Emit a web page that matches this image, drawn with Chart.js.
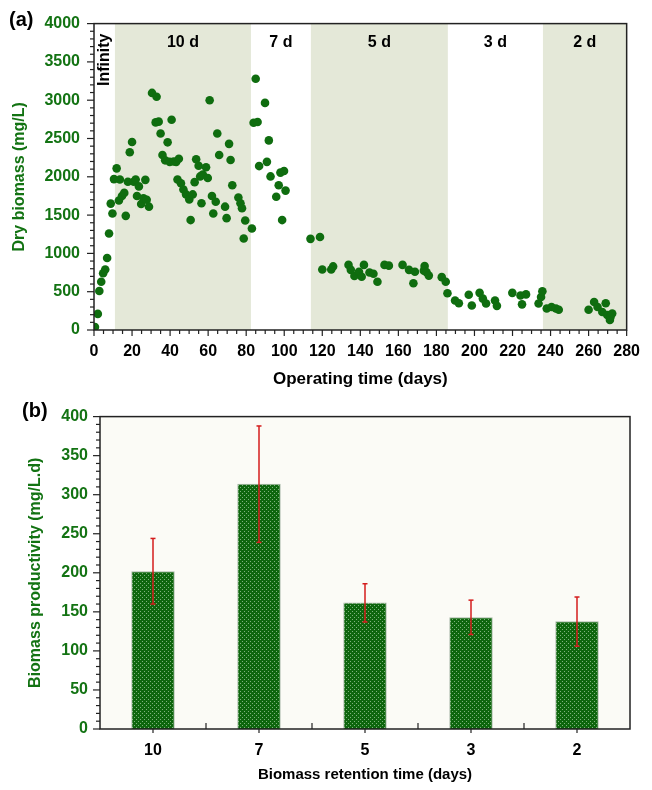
<!doctype html>
<html lang="en">
  <head>
    <meta charset="utf-8">
    <style>
      * { margin: 0; padding: 0; }
      body { width: 652px; height: 790px; background: #fff; position: relative; overflow: hidden; }
      canvas { position: absolute; left: 0; }
      #chartA { top: 0; }
      #chartB { top: 395px; }
    </style>
  </head>
  <body>
    <canvas id="chartA" width="652" height="395"></canvas>
    <canvas id="chartB" width="652" height="395"></canvas>

    <script src="https://cdn.jsdelivr.net/npm/chart.js/dist/chart.umd.min.js"></script>
    <script>
// ---- panel (a) data ----
const days = [
  0.5, 2, 2.8, 3.8, 4.8, 5.9, 6.9, 7.9, 8.8, 9.7, 10.5,
  11.9, 13.1, 13.6, 14.7, 15.9, 16.7, 17.8, 18.8, 20, 20.9, 21.9, 22.6, 23.6, 24.8, 26, 27, 27.7, 28.9,
  30.5, 32.4, 32.9, 34, 35, 36, 37.4, 38.7, 39.8, 40.8, 41.9, 43.2, 43.9, 44.6, 45.7, 47, 48.4,
  50.1, 50.8, 51.9, 52.9, 53.7, 55, 56.5, 55.8, 57.2, 58.9, 59.8, 60.8, 62, 62.7, 64, 64.8, 65.8,
  68.9, 69.7, 71, 71.8, 72.7, 75.9, 77, 77.8, 78.7, 79.5, 83,
  83.9, 85, 86, 86.8, 89.9, 90.9, 91.9, 92.8, 95.8, 97.1, 98, 98.9, 99.9, 100.7,
  113.8, 118.8, 120, 124.7, 125.7, 133.8, 135, 136.9, 139.3, 140.7, 141.9, 144.8, 146.9, 149,
  152.7, 155, 162.2, 165.6, 167.9, 168.7, 173.4, 173.8, 174.8, 176, 182.8, 184.9,
  185.8, 189.8, 191.8, 197, 198.6, 202.7, 204.4, 206.1, 210.8, 211.8, 219.9, 224.2, 225, 227.1,
  233.7, 235, 235.7,
  238, 240.5, 242.8, 244.3, 260, 262.9, 264.7, 267.2, 269, 269.8, 271.2, 271.5, 272.4
];
const biomass = [
  40, 210, 510, 630, 740, 790, 940, 1260, 1650, 1520, 1970,
  2110, 1690, 1965, 1750, 1790, 1490, 1935, 2320, 2455, 1935, 1965, 1750, 1875, 1645, 1720, 1960, 1700, 1610,
  3095, 2710, 3045, 2720, 2565, 2285, 2215, 2450, 2195, 2745, 2200, 2195, 1965, 2235, 1915, 1835, 1770,
  1705, 1435, 1770, 1930, 2230, 2145, 1655, 2005, 2030, 2125, 1985, 3000, 1750, 1520, 1675, 2565, 2285,
  1610, 1460, 2430, 2220, 1890, 1730, 1655, 1590, 1195, 1430, 1325,
  2705, 3280, 2715, 2140, 2965, 2195, 2475, 2005, 1740, 1890, 2055, 1435, 2075, 1820,
  1190, 1215, 790, 790, 830, 850, 785, 705, 760, 695, 850, 750, 735, 630,
  850, 840, 850, 785, 610, 760, 775, 835, 755, 710, 690, 630,
  480, 385, 350, 460, 320, 485, 410, 345, 385, 315, 485, 450, 335, 465,
  345, 430, 505,
  280, 300, 280, 265, 265, 365, 300, 235, 350, 195, 130, 170, 215
];
// retention-time phases (days)
const phaseNames = ['Infinity', '10 d', '7 d', '5 d', '3 d', '2 d'];
const phaseStart = [0, 11, 82.5, 114, 186, 236];
const phaseEnd = [11, 82.5, 114, 186, 236, 280];
const phaseShaded = [false, true, false, true, false, true];

// ---- panel (b) data ----
const retention = ['10', '7', '5', '3', '2'];
const productivity = [202, 314, 162, 143, 138];
const errLow = [160, 239, 137, 121, 106];
const errHigh = [244, 388, 186, 165, 169];

const green = '#137313';
const dotGreen = '#0f6d0f';
const font = 'Liberation Sans';

function drawPanelLabel(ctx, text, x, y) {
  ctx.save();
  ctx.font = 'bold 20px ' + font;
  ctx.fillStyle = '#000';
  ctx.textBaseline = 'middle';
  ctx.fillText(text, x, y);
  ctx.restore();
}

function tickLine(ctx, x1, y1, x2, y2) {
  ctx.beginPath();
  ctx.moveTo(x1, y1);
  ctx.lineTo(x2, y2);
  ctx.stroke();
}

// shaded phases + labels
const phases = {
  id: 'phases',
  beforeDatasetsDraw(chart) {
    const {ctx, chartArea: {top, bottom}, scales: {x}} = chart;
    ctx.save();
    ctx.fillStyle = '#e4e8d8';
    phaseStart.forEach((s, i) => {
      if (!phaseShaded[i]) return;
      const x1 = x.getPixelForValue(s), x2 = x.getPixelForValue(phaseEnd[i]);
      ctx.fillRect(x1, top, x2 - x1, bottom - top);
    });
    ctx.fillStyle = '#000';
    ctx.font = 'bold 16px ' + font;
    ctx.textBaseline = 'middle';
    phaseNames.forEach((name, i) => {
      const cx = x.getPixelForValue((phaseStart[i] + phaseEnd[i]) / 2);
      if (i === 0) {
        ctx.save();
        ctx.translate(cx, top + 10);
        ctx.rotate(-Math.PI / 2);
        ctx.textAlign = 'right';
        ctx.fillText(name, 0, 0);
        ctx.restore();
      } else {
        ctx.textAlign = 'center';
        ctx.fillText(name, cx, top + 19);
      }
    });
    ctx.restore();
  }
};

// frame + tick marks for (a)
const frameA = {
  id: 'frameA',
  afterDatasetsDraw(chart) {
    const {ctx, chartArea: {top, bottom, left, right}, scales: {x, y}} = chart;
    ctx.save();
    ctx.strokeStyle = '#222';
    ctx.lineWidth = 1.5;
    ctx.strokeRect(left, top, right - left, bottom - top);
    ctx.lineWidth = 1.2;
    for (let v = 0; v <= 4000; v += 100) {
      const py = y.getPixelForValue(v);
      tickLine(ctx, left, py, left - (v % 500 === 0 ? 7 : 4), py);
    }
    for (let v = 0; v <= 280; v += 5) {
      const px = x.getPixelForValue(v);
      tickLine(ctx, px, bottom, px, bottom + (v % 20 === 0 ? 6 : 4));
    }
    ctx.restore();
    drawPanelLabel(ctx, '(a)', 9, 20);
  }
};

const plain = v => String(v);

new Chart(document.getElementById('chartA'), {
  type: 'scatter',
  data: {
    datasets: [{
      data: days.map((d, i) => ({x: d, y: biomass[i]})),
      backgroundColor: dotGreen,
      borderWidth: 0,
      pointRadius: 4.3,
      pointHoverRadius: 4.3
    }]
  },
  options: {
    responsive: false,
    animation: false,
    layout: {padding: {top: 20, right: 16, left: 0, bottom: 0}},
    plugins: {legend: {display: false}, tooltip: {enabled: false}},
    scales: {
      x: {
        type: 'linear', min: 0, max: 280,
        afterFit(s) { s.height = 65; },
        grid: {display: false, drawTicks: false},
        border: {display: false},
        ticks: {stepSize: 20, color: '#000', padding: 12, callback: plain,
                font: {family: font, size: 16, weight: 'bold'}, maxRotation: 0},
        title: {display: true, text: 'Operating time (days)', color: '#000', padding: {top: 0, bottom: 5},
                font: {family: font, size: 17, weight: 'bold'}}
      },
      y: {
        min: 0, max: 4000,
        afterFit(s) { s.width = 94; },
        grid: {display: false, drawTicks: false},
        border: {display: false},
        ticks: {stepSize: 500, color: green, padding: 14, callback: plain,
                font: {family: font, size: 16, weight: 'bold'}},
        title: {display: true, text: 'Dry biomass (mg/L)', color: green, padding: {top: 10, bottom: 0},
                font: {family: font, size: 16, weight: 'bold'}}
      }
    }
  },
  plugins: [phases, frameA]
});

// ---- (b) ----
function dotPattern() {
  const c = document.createElement('canvas');
  c.width = 4; c.height = 4;
  const p = c.getContext('2d');
  p.fillStyle = '#0e660e';
  p.fillRect(0, 0, 4, 4);
  p.fillStyle = 'rgba(200,230,200,0.6)';
  p.fillRect(0, 0, 1, 1);
  p.fillRect(2, 2, 1, 1);
  return p.createPattern(c, 'repeat');
}

const frameB = {
  id: 'frameB',
  beforeDatasetsDraw(chart) {
    const {ctx, chartArea: {top, bottom, left, right}} = chart;
    ctx.save();
    ctx.fillStyle = '#fbfbf6';
    ctx.fillRect(left, top, right - left, bottom - top);
    ctx.restore();
  },
  afterDatasetsDraw(chart) {
    const {ctx, chartArea: {top, bottom, left, right}, scales: {x, y}} = chart;
    ctx.save();
    // error bars
    ctx.strokeStyle = '#d41c1c';
    ctx.lineWidth = 1.5;
    productivity.forEach((v, i) => {
      const px = x.getPixelForValue(i);
      const lo = y.getPixelForValue(errLow[i]), hi = y.getPixelForValue(errHigh[i]);
      tickLine(ctx, px, lo, px, hi);
      tickLine(ctx, px - 2.5, lo, px + 2.5, lo);
      tickLine(ctx, px - 2.5, hi, px + 2.5, hi);
    });
    ctx.strokeStyle = '#222';
    ctx.lineWidth = 1.5;
    ctx.strokeRect(left, top, right - left, bottom - top);
    ctx.lineWidth = 1.2;
    for (let v = 0; v <= 400; v += 10) {
      const py = y.getPixelForValue(v);
      tickLine(ctx, left, py, left - (v % 50 === 0 ? 7 : 4), py);
    }
    retention.forEach((r, i) => {
      const px = x.getPixelForValue(i);
      tickLine(ctx, px, bottom, px, bottom + 4);
      if (i > 0) {
        const bx = (x.getPixelForValue(i - 1) + px) / 2;
        tickLine(ctx, bx, bottom, bx, bottom - 6);
      }
    });
    ctx.restore();
    drawPanelLabel(ctx, '(b)', 22, 16);
  }
};

new Chart(document.getElementById('chartB'), {
  type: 'bar',
  data: {
    labels: retention,
    datasets: [{
      data: productivity,
      backgroundColor: dotPattern(),
      borderColor: '#a9b8a9',
      borderWidth: 1,
      borderSkipped: 'bottom',
      barPercentage: 0.41,
      categoryPercentage: 1
    }]
  },
  options: {
    responsive: false,
    animation: false,
    layout: {padding: {top: 15, right: 22, left: 0, bottom: 0}},
    plugins: {legend: {display: false}, tooltip: {enabled: false}},
    scales: {
      x: {
        afterFit(s) { s.height = 61; },
        grid: {display: false, drawTicks: false},
        border: {display: false},
        ticks: {color: '#000', padding: 12, font: {family: font, size: 16, weight: 'bold'}},
        title: {display: true, text: 'Biomass retention time (days)', color: '#000', padding: {top: 0, bottom: 6},
                font: {family: font, size: 15, weight: 'bold'}}
      },
      y: {
        min: 0, max: 400,
        afterFit(s) { s.width = 100; },
        grid: {display: false, drawTicks: false},
        border: {display: false},
        ticks: {stepSize: 50, color: green, padding: 12, callback: plain,
                font: {family: font, size: 16, weight: 'bold'}},
        title: {display: true, text: 'Biomass productivity (mg/L.d)', color: green, padding: {top: 26, bottom: 0},
                font: {family: font, size: 16, weight: 'bold'}}
      }
    }
  },
  plugins: [frameB]
});
    </script>
  </body>
</html>
